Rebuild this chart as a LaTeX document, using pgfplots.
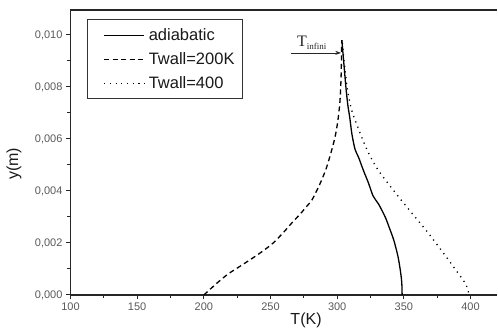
\documentclass[border=0pt]{standalone}
\usepackage{fontspec}
\setmainfont{Liberation Sans}
\newfontfamily\serif{Liberation Serif}
\usepackage{pgfplots}
\pgfplotsset{compat=1.18}
\usetikzlibrary{arrows.meta}
\begin{document}
\begin{tikzpicture}
\begin{axis}[
  scale only axis,
  width=426.7pt, height=285pt,
  xmin=100, xmax=420, ymin=0, ymax=0.01096,
  axis x line*=box, axis y line*=left,
  xtick pos=bottom, ytick pos=left,
  xtick={100,150,...,400},
  ytick={0,0.002,...,0.0101},
  minor x tick num=1, minor y tick num=1,
  tick align=outside,
  major tick length=4.5pt, minor tick length=3pt,
  axis line style={line width=1.3pt, black!85},
  every tick/.style={line width=1pt, black!85},
  scaled y ticks=false,
  /pgf/number format/assume math mode=true,
  yticklabel style={/pgf/number format/.cd, fixed, fixed zerofill, precision=3, use comma, 1000 sep={}},
  xticklabel style={/pgf/number format/.cd, fixed, precision=0, 1000 sep={}},
  tick label style={font=\fontsize{11}{13}\selectfont, text=black!65},
  xlabel={T(K)}, ylabel={y(m)},
  label style={font=\fontsize{16}{18}\selectfont, text=black!90},
  xlabel style={at={(axis description cs:0.552,0)}, anchor=north, yshift=-14pt},
  ylabel style={at={(axis description cs:-0.1066,0.46)}, anchor=south},
  legend style={at={(rel axis cs:0.0386,0.968)}, anchor=north west, draw=black!80, line width=1pt,
    font=\fontsize{16.5}{18}\selectfont, row sep=6.5pt, inner xsep=6pt, inner ysep=7pt,
    text=black!90},
  legend cell align=left,
  legend image code/.code={\path (0pt,0pt) (52pt,0pt); \draw[#1] (10pt,0pt) -- (50pt,0pt);},
  clip=false,
]
\addplot[black, line width=1.3pt, smooth, tension=0.5] coordinates {
(348.7,0) (348.4,0.0005) (347.2,0.0010) (345.5,0.0015) (342.5,0.0021) (339,0.0026)
(336,0.0030) (331,0.0035) (327,0.0038) (323.5,0.0043) (319.6,0.0048) (316,0.0053)
(313.4,0.0056) (311,0.0062) (309.5,0.0068) (308,0.0073) (306.7,0.0079) (305.5,0.0086)
(304.5,0.0092) (303.5,0.0098)
};
\addlegendentry{adiabatic}
\addplot[black, line width=1.3pt, dash pattern=on 5pt off 3.5pt, smooth, tension=0.5] coordinates {
(200,0) (209.7,0.00045) (218,0.0008) (227,0.0011) (236,0.0014) (244.5,0.0017)
(252,0.0020) (259.6,0.0024) (266.5,0.0028) (272,0.0031) (277,0.0034) (281,0.00365)
(285.5,0.0041) (289,0.0045) (292,0.0049) (295.5,0.0055) (298.5,0.0061) (300.5,0.0067)
(302,0.0074) (302.8,0.0082) (303.2,0.0090) (303.4,0.0098)
};
\addlegendentry{Twall=200K}
\addplot[black, line width=1.3pt, dash pattern=on 1.2pt off 4.5pt, smooth, tension=0.5] coordinates {
(398.5,0.0001) (396,0.00045) (387,0.0011) (378.4,0.0017) (368,0.0024) (358.4,0.0030)
(348,0.00365) (338,0.0043) (329.5,0.0049) (322.2,0.0056) (315.9,0.0064) (310.9,0.0071)
(307.7,0.0079) (306,0.0086) (304.8,0.0092) (303.8,0.0098)
};
\addlegendentry{Twall=400}
\draw[-{Stealth[length=6pt,width=4pt]}, line width=0.8pt, black!85] (axis cs:265.4,0.00931) -- (axis cs:303,0.00931);
\node[anchor=base west, inner sep=0pt, text=black!85] at (axis cs:269.8,0.00954)
  {\serif\fontsize{16}{16}\selectfont T\raisebox{-3pt}{\fontsize{9}{9}\selectfont infini}};
\end{axis}
\path (current axis.south west) ++(-70.5pt,-36pt) rectangle ++(498pt,331pt);
\end{tikzpicture}
\end{document}
